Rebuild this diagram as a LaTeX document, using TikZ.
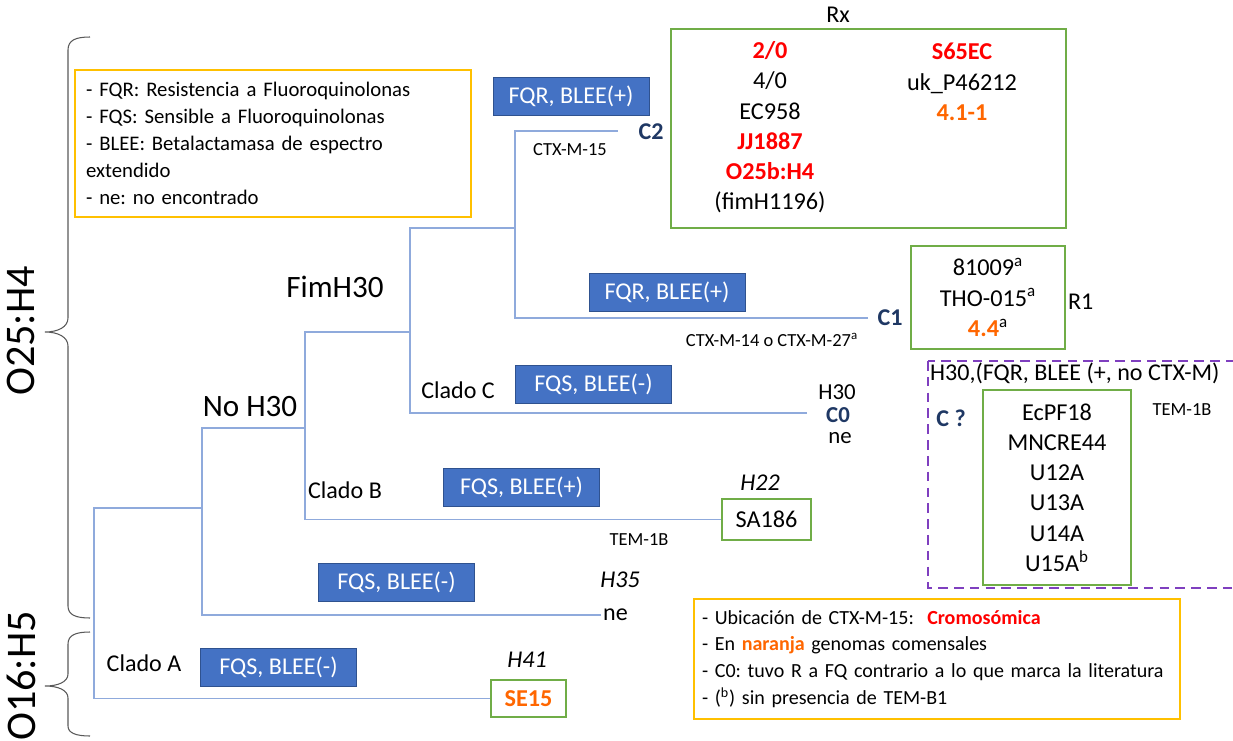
\documentclass[tikz,border=0pt]{standalone}
\usepackage{fontspec}
\setmainfont{Carlito}
\usepackage{tikz}
\usetikzlibrary{calc}
\definecolor{treeblue}{HTML}{8FAADC}
\definecolor{boxblue}{HTML}{4472C4}
\definecolor{boxedge}{HTML}{2F528F}
\definecolor{leafgreen}{HTML}{70AD47}
\definecolor{notegold}{HTML}{FFC000}
\definecolor{cladepurple}{HTML}{7F3FBF}
\definecolor{hotred}{HTML}{FF0000}
\definecolor{commensal}{HTML}{FF6600}
\definecolor{cnavy}{HTML}{1F3864}
\newcommand{\rojo}[1]{\textcolor{hotred}{\textbf{#1}}}
\newcommand{\naranja}[1]{\textcolor{commensal}{\textbf{#1}}}
\newcommand{\branchw}{0.7pt}
\frenchspacing

\begin{document}
\begin{tikzpicture}[x=0.02cm, y=-0.02cm,
  branch/.style={draw=treeblue, line width=\branchw},
  pheno/.style={fill=boxblue, draw=boxedge, line width=0.5pt, text=white,
    font=\fontsize{13.7}{16}\selectfont, minimum width=3.12cm, minimum height=0.76cm, inner sep=0pt},
  leafbox/.style={draw=leafgreen, line width=1pt, align=center,
    font=\fontsize{13.8}{17.2}\selectfont, inner sep=0pt},
  note/.style={draw=notegold, line width=1.1pt, align=left, font=\fontsize{11.8}{15.3}\selectfont},
  lbl/.style={font=\fontsize{13.7}{16}\selectfont, inner sep=1pt},
  cname/.style={font=\fontsize{13.7}{16}\selectfont\bfseries, text=cnavy, inner sep=1pt},
  small/.style={font=\fontsize{10.5}{12}\selectfont, inner sep=1pt},
  big/.style={font=\fontsize{17.7}{20}\selectfont, inner sep=1pt},
  serotype/.style={font=\fontsize{24}{28}\selectfont, rotate=90, inner sep=0pt},
  bracket/.style={draw=black!65, line width=0.6pt}]
\useasboundingbox (0,0) rectangle (1233,740);

% notes
\node[note, text width=7.48cm, inner xsep=0.22cm, minimum height=2.94cm] (abbr) at (273,143.5)
  {- FQR: Resistencia a Fluoroquinolonas\\- FQS: Sensible a Fluoroquinolonas\\- BLEE: Betalactamasa de espectro\\extendido\\- ne: no encontrado};
\node[note, font=\fontsize{11.4}{15.3}\selectfont, text width=9.4cm, inner xsep=0.16cm, minimum height=2.4cm] (obs) at (937,659)
  {- Ubicación de CTX-M-15:~\ \rojo{Cromosómica}\\- En \naranja{naranja} genomas comensales\\- C0: tuvo R a FQ contrario a lo que marca la literatura\\- (\textsuperscript{b}) sin presencia de TEM-B1};

% serotypes
\node[serotype] (o25) at (21,331) {O25:H4};
\node[serotype] (o16) at (21,676) {O16:H5};
\draw[bracket] (90,37) .. controls (76,37) and (68,40) .. (68,50) -- (68,318)
  .. controls (68,327) and (58,332) .. (45,332) .. controls (58,332) and (68,337) .. (68,346)
  -- (68,606) .. controls (68,615) and (76,618) .. (90,618);
\draw[bracket] (90,632) .. controls (76,632) and (68,635) .. (68,644) -- (68,674)
  .. controls (68,682) and (58,686) .. (45,686) .. controls (58,686) and (68,690) .. (68,698)
  -- (68,726) .. controls (68,733) and (76,736) .. (90,736);

% leaf boxes
\node[leafbox, minimum width=7.9cm, minimum height=3.98cm] (rx) at (868.5,128.5) {};
\node[leafbox, draw=none] (rxl) at (770,127.5) {\rojo{2/0}\\4/0\\EC958\\\rojo{JJ1887}\\\rojo{O25b:H4}\\(fimH1196)};
\node[leafbox, draw=none] (rxr) at (962,82) {\rojo{S65EC}\\uk\_P46212\\\naranja{4.1-1}};
\node[leafbox, minimum width=3.08cm, minimum height=2.06cm] (r1) at (988,297.5)
  {81009\textsuperscript{a}\\THO-015\textsuperscript{a}\\\naranja{4.4}\textsuperscript{a}};
\node[leafbox, minimum width=2.96cm, minimum height=3.9cm] (cq) at (1057,487.5)
  {EcPF18\\MNCRE44\\U12A\\U13A\\U14A\\U15A\textsuperscript{b}};
\node[leafbox, minimum width=1.78cm, minimum height=0.82cm] (sa) at (766.5,519.5) {SA186};
\node[leafbox, minimum width=1.5cm, minimum height=0.74cm] (se) at (528.5,698.5) {\naranja{SE15}};
\draw[cladepurple, line width=0.9pt, dash pattern=on 5.5pt off 3.5pt] (928,361) rectangle (1250,588);

% phenotypes
\node[pheno] (p1) at (571,96) {FQR, BLEE(+)};
\node[pheno] (p2) at (667,292.5) {FQR, BLEE(+)};
\node[pheno] (p3) at (593.5,384) {FQS, BLEE(-)};
\node[pheno] (p4) at (521.5,487) {FQS, BLEE(+)};
\node[pheno] (p5) at (396.5,582) {FQS, BLEE(-)};
\node[pheno] (p6) at (278.5,667.5) {FQS, BLEE(-)};

% labels
\node[lbl] (rxname) at (838,15) {Rx};
\node[lbl, anchor=west] (r1name) at (1066,302) {R1};
\node[cname] (c2) at (651,132) {C2};
\node[cname] (c1) at (890,318) {C1};
\node[lbl, font=\fontsize{13}{15}\selectfont, inner sep=0pt] (h30) at (837,392) {H30};
\node[cname, font=\fontsize{13}{15}\selectfont\bfseries, inner sep=0pt] (c0) at (838,415) {C0};
\node[lbl, font=\fontsize{13}{15}\selectfont, inner sep=0pt] (ne30) at (840,438) {ne};
\node[cname] (cx) at (951,418) {C ?};
\node[lbl, anchor=west] (cxname) at (928,373) {H30,(FQR, BLEE (+, no CTX-M)};
\node[small] (ctx15) at (570,150) {CTX-M-15};
\node[small] (ctx14) at (772,340) {CTX-M-14 o CTX-M-27\textsuperscript{a}};
\node[small] (temb) at (639,540) {TEM-1B};
\node[small] (temx) at (1182,410) {TEM-1B};
\node[big] (fim) at (335,287) {FimH30};
\node[big] (noh) at (250,407) {No H30};
\node[lbl] (cladoc) at (458,390) {Clado C};
\node[lbl] (cladob) at (345,490) {Clado B};
\node[lbl] (cladoa) at (144,663) {Clado A};
\node[lbl] (h22) at (760,483) {\textit{H22}};
\node[lbl] (h35) at (620,580) {\textit{H35}};
\node[lbl] (h41) at (527,660) {\textit{H41}};
\node[lbl, anchor=west] (ne35) at (601,615) {ne};

% tree
\coordinate (n0) at (94,508);
\coordinate (n1) at (202,428);
\coordinate (n2) at (305,332);
\coordinate (n3) at (410,228);
\coordinate (n4) at (515,131);
\coordinate (c2end) at (618,131);
\coordinate (c1end) at (868,318);
\coordinate (c0end) at (807,413);
\draw[branch] (se.west) -| (n0) -- (n0 -| n1);
\draw[branch] (ne35.west) -| (n1) -- (n1 -| n2);
\draw[branch] (sa.west) -| (n2) -- (n2 -| n3);
\draw[branch] (c0end) -| (n3) -- (n3 -| n4);
\draw[branch] (c1end) -| (n4) -- (c2end);
\end{tikzpicture}
\end{document}
